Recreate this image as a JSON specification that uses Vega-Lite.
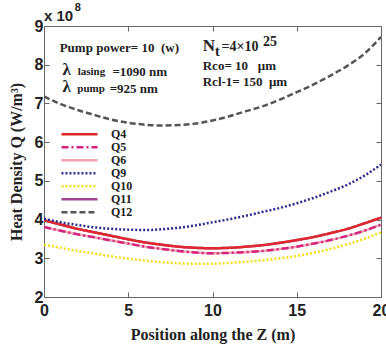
{
  "$schema": "https://vega.github.io/schema/vega-lite/v6.json",
  "width": 337,
  "height": 271,
  "autosize": "none",
  "padding": {"left": 44, "top": 26, "right": 5, "bottom": 49},
  "background": "white",
  "datasets": {
    "curves": [
      {"z":0,"Q":3.98,"s":"Q4"},{"z":1,"Q":3.87,"s":"Q4"},{"z":2,"Q":3.76,"s":"Q4"},{"z":3,"Q":3.67,"s":"Q4"},{"z":4,"Q":3.58,"s":"Q4"},{"z":5,"Q":3.49,"s":"Q4"},{"z":6,"Q":3.41,"s":"Q4"},{"z":7,"Q":3.35,"s":"Q4"},{"z":8,"Q":3.30,"s":"Q4"},{"z":9,"Q":3.27,"s":"Q4"},{"z":10,"Q":3.26,"s":"Q4"},{"z":11,"Q":3.27,"s":"Q4"},{"z":12,"Q":3.30,"s":"Q4"},{"z":13,"Q":3.34,"s":"Q4"},{"z":14,"Q":3.40,"s":"Q4"},{"z":15,"Q":3.47,"s":"Q4"},{"z":16,"Q":3.55,"s":"Q4"},{"z":17,"Q":3.65,"s":"Q4"},{"z":18,"Q":3.76,"s":"Q4"},{"z":19,"Q":3.90,"s":"Q4"},{"z":20,"Q":4.05,"s":"Q4"},
      {"z":0,"Q":3.81,"s":"Q5"},{"z":1,"Q":3.71,"s":"Q5"},{"z":2,"Q":3.62,"s":"Q5"},{"z":3,"Q":3.54,"s":"Q5"},{"z":4,"Q":3.46,"s":"Q5"},{"z":5,"Q":3.38,"s":"Q5"},{"z":6,"Q":3.30,"s":"Q5"},{"z":7,"Q":3.24,"s":"Q5"},{"z":8,"Q":3.19,"s":"Q5"},{"z":9,"Q":3.15,"s":"Q5"},{"z":10,"Q":3.13,"s":"Q5"},{"z":11,"Q":3.14,"s":"Q5"},{"z":12,"Q":3.16,"s":"Q5"},{"z":13,"Q":3.19,"s":"Q5"},{"z":14,"Q":3.24,"s":"Q5"},{"z":15,"Q":3.30,"s":"Q5"},{"z":16,"Q":3.38,"s":"Q5"},{"z":17,"Q":3.47,"s":"Q5"},{"z":18,"Q":3.58,"s":"Q5"},{"z":19,"Q":3.71,"s":"Q5"},{"z":20,"Q":3.87,"s":"Q5"},
      {"z":0,"Q":3.81,"s":"Q6"},{"z":1,"Q":3.71,"s":"Q6"},{"z":2,"Q":3.62,"s":"Q6"},{"z":3,"Q":3.54,"s":"Q6"},{"z":4,"Q":3.46,"s":"Q6"},{"z":5,"Q":3.38,"s":"Q6"},{"z":6,"Q":3.30,"s":"Q6"},{"z":7,"Q":3.24,"s":"Q6"},{"z":8,"Q":3.19,"s":"Q6"},{"z":9,"Q":3.15,"s":"Q6"},{"z":10,"Q":3.13,"s":"Q6"},{"z":11,"Q":3.14,"s":"Q6"},{"z":12,"Q":3.16,"s":"Q6"},{"z":13,"Q":3.19,"s":"Q6"},{"z":14,"Q":3.24,"s":"Q6"},{"z":15,"Q":3.30,"s":"Q6"},{"z":16,"Q":3.38,"s":"Q6"},{"z":17,"Q":3.47,"s":"Q6"},{"z":18,"Q":3.58,"s":"Q6"},{"z":19,"Q":3.71,"s":"Q6"},{"z":20,"Q":3.87,"s":"Q6"},
      {"z":0,"Q":4.02,"s":"Q9"},{"z":1,"Q":3.93,"s":"Q9"},{"z":2,"Q":3.86,"s":"Q9"},{"z":3,"Q":3.80,"s":"Q9"},{"z":4,"Q":3.76,"s":"Q9"},{"z":5,"Q":3.74,"s":"Q9"},{"z":6,"Q":3.73,"s":"Q9"},{"z":7,"Q":3.75,"s":"Q9"},{"z":8,"Q":3.79,"s":"Q9"},{"z":9,"Q":3.85,"s":"Q9"},{"z":10,"Q":3.93,"s":"Q9"},{"z":11,"Q":4.01,"s":"Q9"},{"z":12,"Q":4.10,"s":"Q9"},{"z":13,"Q":4.20,"s":"Q9"},{"z":14,"Q":4.30,"s":"Q9"},{"z":15,"Q":4.42,"s":"Q9"},{"z":16,"Q":4.56,"s":"Q9"},{"z":17,"Q":4.72,"s":"Q9"},{"z":18,"Q":4.90,"s":"Q9"},{"z":19,"Q":5.13,"s":"Q9"},{"z":20,"Q":5.42,"s":"Q9"},
      {"z":0,"Q":3.35,"s":"Q10"},{"z":1,"Q":3.27,"s":"Q10"},{"z":2,"Q":3.19,"s":"Q10"},{"z":3,"Q":3.12,"s":"Q10"},{"z":4,"Q":3.05,"s":"Q10"},{"z":5,"Q":2.99,"s":"Q10"},{"z":6,"Q":2.94,"s":"Q10"},{"z":7,"Q":2.90,"s":"Q10"},{"z":8,"Q":2.87,"s":"Q10"},{"z":9,"Q":2.86,"s":"Q10"},{"z":10,"Q":2.86,"s":"Q10"},{"z":11,"Q":2.88,"s":"Q10"},{"z":12,"Q":2.91,"s":"Q10"},{"z":13,"Q":2.95,"s":"Q10"},{"z":14,"Q":3.00,"s":"Q10"},{"z":15,"Q":3.06,"s":"Q10"},{"z":16,"Q":3.14,"s":"Q10"},{"z":17,"Q":3.24,"s":"Q10"},{"z":18,"Q":3.36,"s":"Q10"},{"z":19,"Q":3.50,"s":"Q10"},{"z":20,"Q":3.67,"s":"Q10"},
      {"z":0,"Q":3.98,"s":"Q11"},{"z":1,"Q":3.87,"s":"Q11"},{"z":2,"Q":3.76,"s":"Q11"},{"z":3,"Q":3.67,"s":"Q11"},{"z":4,"Q":3.58,"s":"Q11"},{"z":5,"Q":3.49,"s":"Q11"},{"z":6,"Q":3.41,"s":"Q11"},{"z":7,"Q":3.35,"s":"Q11"},{"z":8,"Q":3.30,"s":"Q11"},{"z":9,"Q":3.27,"s":"Q11"},{"z":10,"Q":3.26,"s":"Q11"},{"z":11,"Q":3.27,"s":"Q11"},{"z":12,"Q":3.30,"s":"Q11"},{"z":13,"Q":3.34,"s":"Q11"},{"z":14,"Q":3.40,"s":"Q11"},{"z":15,"Q":3.47,"s":"Q11"},{"z":16,"Q":3.55,"s":"Q11"},{"z":17,"Q":3.65,"s":"Q11"},{"z":18,"Q":3.76,"s":"Q11"},{"z":19,"Q":3.90,"s":"Q11"},{"z":20,"Q":4.05,"s":"Q11"},
      {"z":0,"Q":7.18,"s":"Q12"},{"z":1,"Q":6.98,"s":"Q12"},{"z":2,"Q":6.83,"s":"Q12"},{"z":3,"Q":6.70,"s":"Q12"},{"z":4,"Q":6.58,"s":"Q12"},{"z":5,"Q":6.50,"s":"Q12"},{"z":6,"Q":6.45,"s":"Q12"},{"z":7,"Q":6.43,"s":"Q12"},{"z":8,"Q":6.44,"s":"Q12"},{"z":9,"Q":6.48,"s":"Q12"},{"z":10,"Q":6.56,"s":"Q12"},{"z":11,"Q":6.67,"s":"Q12"},{"z":12,"Q":6.80,"s":"Q12"},{"z":13,"Q":6.93,"s":"Q12"},{"z":14,"Q":7.10,"s":"Q12"},{"z":15,"Q":7.29,"s":"Q12"},{"z":16,"Q":7.49,"s":"Q12"},{"z":17,"Q":7.72,"s":"Q12"},{"z":18,"Q":7.97,"s":"Q12"},{"z":19,"Q":8.28,"s":"Q12"},{"z":20,"Q":8.72,"s":"Q12"}
    ],
    "notes": [
      {"z":0.93,"Q":8.43,"t":"Pump power= 10\u00a0\u00a0(w)","g":"main"},
      {"z":4.06,"Q":7.80,"t":"=1090 nm","g":"main"},
      {"z":3.90,"Q":7.36,"t":"=925 nm","g":"main"},
      {"z":9.42,"Q":7.96,"t":"Rco= 10\u00a0\u00a0\u00a0μm","g":"main"},
      {"z":9.42,"Q":7.56,"t":"Rcl-1= 150\u00a0\u00a0μm","g":"main"},
      {"z":10.54,"Q":8.45,"t":"=4×10","g":"mid"},
      {"z":1.10,"Q":7.86,"t":"λ","g":"big"},
      {"z":1.10,"Q":7.42,"t":"λ","g":"big"},
      {"z":9.42,"Q":8.48,"t":"N","g":"big"},
      {"z":2.0,"Q":7.81,"t":"lasing","g":"small"},
      {"z":1.98,"Q":7.37,"t":"pump","g":"small"},
      {"z":10.15,"Q":8.34,"t":"t","g":"mid"},
      {"z":13.0,"Q":8.58,"t":"25","g":"mid"}
    ],
    "mult": [{"z":0.0,"Q":9.27,"t":"x 10","g":"base"},{"z":1.82,"Q":9.47,"t":"8","g":"exp"}]
  },
  "layer": [
    {
      "data": {"name": "curves"},
      "transform": [{"filter": "datum.s === 'Q6' || datum.s === 'Q11'"}],
      "mark": {"type": "line", "interpolate": "monotone", "clip": true},
      "encoding": {
        "x": {"field": "z", "type": "quantitative", "scale": {"domain": [0, 20], "nice": false},
              "axis": {"orient": "top", "labels": false, "title": null, "values": [0,5,10,15,20], "tickSize": -5, "domainColor": "#666", "tickColor": "#666"}},
        "y": {"field": "Q", "type": "quantitative", "scale": {"domain": [2, 9], "nice": false, "zero": false},
              "axis": {"orient": "right", "labels": false, "title": null, "values": [2,3,4,5,6,7,8,9], "tickSize": -5, "domainColor": "#666", "tickColor": "#666"}},
        "color": {"field": "s", "type": "nominal",
          "scale": {"domain": ["Q4","Q5","Q6","Q9","Q10","Q11","Q12"], "range": ["#e0282c","#d4247e","#f2a2b0","#2b2b8c","#f7dc1a","#a4448e","#555555"]},
          "legend": {"orient": "none", "legendX": 16, "legendY": 102, "title": null, "symbolType": "stroke", "symbolSize": 1300, "clipHeight": 12.7, "rowPadding": 0, "labelFont": "Liberation Serif", "labelFontWeight": "bold", "labelFontSize": 12, "labelColor": "#222", "labelOffset": 12, "padding": 0}},
        "strokeDash": {"field": "s", "type": "nominal",
          "scale": {"domain": ["Q4","Q5","Q6","Q9","Q10","Q11","Q12"], "range": [[1,0],[7,3,2,3],[1,0],[2,2],[2,2],[1,0],[6,3]]},
          "legend": null},
        "strokeWidth": {"field": "s", "type": "nominal",
          "scale": {"domain": ["Q4","Q5","Q6","Q9","Q10","Q11","Q12"], "range": [2.5,2.5,1,2.5,2,1,2]},
          "legend": null}
      }
    },
    {
      "data": {"name": "curves"},
      "transform": [{"filter": "datum.s !== 'Q6' && datum.s !== 'Q11'"}],
      "mark": {"type": "line", "interpolate": "monotone", "clip": true},
      "encoding": {
        "x": {"field": "z", "type": "quantitative",
              "axis": {"orient": "bottom", "title": "Position along the Z (m)", "values": [0,5,10,15,20], "tickSize": -5, "labelPadding": 10, "domainColor": "#666", "tickColor": "#666", "labelFont": "Liberation Sans", "labelFontWeight": "bold", "labelFontSize": 16, "labelColor": "#222", "titleFont": "Liberation Serif", "titleFontWeight": "bold", "titleFontSize": 16, "titleColor": "#222", "titlePadding": 8, "labelFlush": false}},
        "y": {"field": "Q", "type": "quantitative",
              "axis": {"orient": "left", "title": "Heat Density Q (W/m³)", "values": [2,3,4,5,6,7,8,9], "tickSize": -5, "labelPadding": 6, "domainColor": "#666", "tickColor": "#666", "labelFont": "Liberation Sans", "labelFontWeight": "bold", "labelFontSize": 16, "labelColor": "#222", "titleFont": "Liberation Serif", "titleFontWeight": "bold", "titleFontSize": 16, "titleColor": "#222", "titlePadding": 10}},
        "color": {"field": "s", "type": "nominal"},
        "strokeDash": {"field": "s", "type": "nominal", "legend": null},
        "strokeWidth": {"field": "s", "type": "nominal", "legend": null}
      }
    },
    {
      "data": {"name": "notes"},
      "transform": [{"filter": "datum.g === 'main'"}],
      "mark": {"type": "text", "align": "left", "baseline": "middle", "font": "Liberation Serif", "fontWeight": "bold", "fontSize": 13, "color": "#222"},
      "encoding": {"x": {"field": "z", "type": "quantitative", "axis": null}, "y": {"field": "Q", "type": "quantitative", "axis": null}, "text": {"field": "t"}}
    },
    {
      "data": {"name": "notes"},
      "transform": [{"filter": "datum.g === 'mid'"}],
      "mark": {"type": "text", "align": "left", "baseline": "middle", "font": "Liberation Serif", "fontWeight": "bold", "fontSize": 14, "color": "#222"},
      "encoding": {"x": {"field": "z", "type": "quantitative", "axis": null}, "y": {"field": "Q", "type": "quantitative", "axis": null}, "text": {"field": "t"}}
    },
    {
      "data": {"name": "notes"},
      "transform": [{"filter": "datum.g === 'big'"}],
      "mark": {"type": "text", "align": "left", "baseline": "middle", "font": "Liberation Serif", "fontWeight": "bold", "fontSize": 17, "color": "#222"},
      "encoding": {"x": {"field": "z", "type": "quantitative", "axis": null}, "y": {"field": "Q", "type": "quantitative", "axis": null}, "text": {"field": "t"}}
    },
    {
      "data": {"name": "notes"},
      "transform": [{"filter": "datum.g === 'small'"}],
      "mark": {"type": "text", "align": "left", "baseline": "middle", "font": "Liberation Serif", "fontWeight": "bold", "fontSize": 11, "color": "#222"},
      "encoding": {"x": {"field": "z", "type": "quantitative", "axis": null}, "y": {"field": "Q", "type": "quantitative", "axis": null}, "text": {"field": "t"}}
    },
    {
      "data": {"name": "mult"},
      "transform": [{"filter": "datum.g === 'base'"}],
      "mark": {"type": "text", "align": "left", "baseline": "middle", "font": "Liberation Sans", "fontWeight": "bold", "fontSize": 15, "color": "#222"},
      "encoding": {"x": {"field": "z", "type": "quantitative", "axis": null}, "y": {"field": "Q", "type": "quantitative", "axis": null}, "text": {"field": "t"}}
    },
    {
      "data": {"name": "mult"},
      "transform": [{"filter": "datum.g === 'exp'"}],
      "mark": {"type": "text", "align": "left", "baseline": "middle", "font": "Liberation Sans", "fontWeight": "bold", "fontSize": 11, "color": "#222"},
      "encoding": {"x": {"field": "z", "type": "quantitative", "axis": null}, "y": {"field": "Q", "type": "quantitative", "axis": null}, "text": {"field": "t"}}
    }
  ],
  "resolve": {"axis": {"x": "independent", "y": "independent"}},
  "config": {
    "view": {"stroke": null},
    "axis": {"grid": false, "domainWidth": 1, "ticks": true}
  }
}
